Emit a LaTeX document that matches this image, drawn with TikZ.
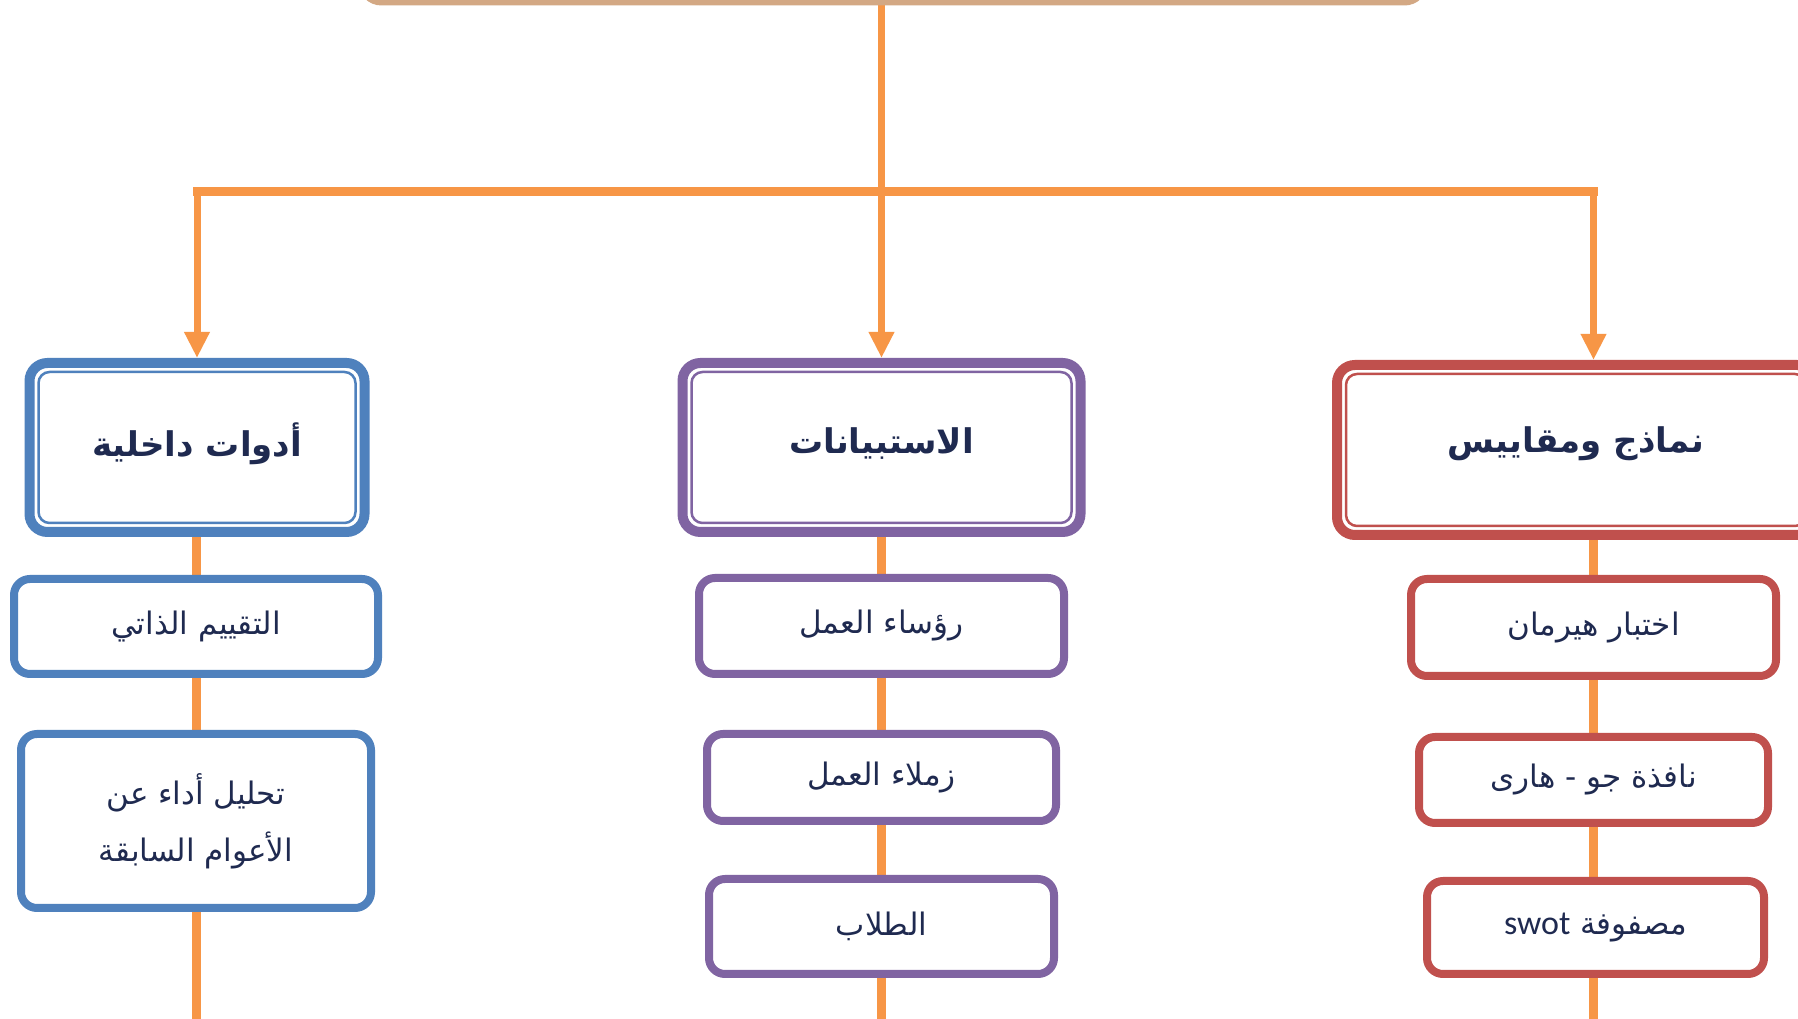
\documentclass[tikz,border=0pt]{standalone}
\usepackage{fontspec}
\newfontfamily\arabicfont[Script=Arabic]{DejaVu Sans}
\newfontfamily\latinsans{Carlito}
\TeXXeTstate=1
\usetikzlibrary{arrows.meta,calc}
\pgfdeclarelayer{background}
\pgfsetlayers{background,main}
\definecolor{cblue}{HTML}{4F81BD}
\definecolor{cpurple}{HTML}{8064A2}
\definecolor{cred}{HTML}{C0504D}
\definecolor{corange}{HTML}{F79646}
\definecolor{ctan}{HTML}{D3A884}
\definecolor{ctext}{HTML}{1F2A50}
\begin{document}
\begin{tikzpicture}[x=1pt,y=1pt,
  mainbox/.style={draw=#1, line width=10pt, rounded corners=18pt, fill=white, inner sep=0pt},
  titletext/.style={font=\arabicfont\bfseries\fontsize{34}{40}\selectfont, text=ctext},
  innerline/.style={draw=#1, line width=2.5pt, rounded corners=11pt},
  subbox/.style={draw=#1, line width=8pt, rounded corners=16pt, fill=white, inner sep=0pt,
    font=\arabicfont\fontsize{31}{57}\selectfont, text=ctext, align=center},
  conn/.style={draw=corange, line width=9pt},
  branch/.style={draw=corange, line width=7pt},
  arr/.style={-{Triangle[width=24pt,length=26pt]}}
]
\useasboundingbox (0,0) rectangle (1798,1019);

% top box
\node[draw=ctan, line width=7pt, rounded corners=20pt, fill=white, minimum width=1063pt, minimum height=100pt] (T) at (893,1067) {};

% main boxes
\node[mainbox=cblue, minimum width=335pt, minimum height=169pt] (L) at (197,571.5) {};
\node[titletext] (Lt) at (197,575) {\beginR أدوات داخلية\endR};
\node[mainbox=cpurple, minimum width=398pt, minimum height=169pt] (M) at (881.5,571.5) {};
\node[titletext] (Mt) at (881.5,575) {\beginR الاستبيانات\endR};
\node[mainbox=cred, minimum width=478pt, minimum height=170pt] (R) at (1576,569) {};
\node[titletext] (Rt) at (1576,575) {\beginR نماذج ومقاييس\endR};

\draw[innerline=cblue] ($(L.north west)+(14,-14)$) rectangle ($(L.south east)+(-14,14)$);
\draw[innerline=cpurple] ($(M.north west)+(14,-14)$) rectangle ($(M.south east)+(-14,14)$);
\draw[innerline=cred] ($(R.north west)+(14,-14)$) rectangle ($(R.south east)+(-14,14)$);

% sub boxes
\node[subbox=cblue, minimum width=364pt, minimum height=95pt] (L1) at (196,392.5) {\beginR التقييم الذاتي\endR};
\node[subbox=cblue, minimum width=350pt, minimum height=174pt] (L2) at (196,198) {\beginR تحليل أداء عن\endR\\\beginR الأعوام السابقة\endR};
\node[subbox=cpurple, minimum width=365pt, minimum height=96pt] (M1) at (881.5,393) {\beginR رؤساء العمل\endR};
\node[subbox=cpurple, minimum width=349pt, minimum height=87pt] (M2) at (881.5,241.5) {\beginR زملاء العمل\endR};
\node[subbox=cpurple, minimum width=345pt, minimum height=95pt] (M3) at (881.5,92.5) {\beginR الطلاب\endR};
\node[subbox=cred, minimum width=365pt, minimum height=97pt] (R1) at (1593.5,391.5) {\beginR اختبار هيرمان\endR};
\node[subbox=cred, minimum width=349pt, minimum height=86pt] (R2) at (1593.5,239) {\beginR نافذة جو - هارى\endR};
\node[subbox=cred, minimum width=337pt, minimum height=93pt] (R3) at (1595.5,91.5) {\beginR مصفوفة {\latinsans\fontsize{34}{40}\selectfont\beginL swot\endL}\endR};

\coordinate (bar) at (881.5,827.5);
\coordinate (Rtop) at ($(R.north)+(17.5,0)$);
\coordinate (Lend) at (196,-10);
\coordinate (Mend) at (881.5,-10);
\coordinate (Rend) at (1593.5,-10);

\begin{pgfonlayer}{background}
  \fill[white] (0,0) rectangle (1798,1019);
  \draw[branch, arr] (T.south -| M.north) -- (M.north);
  \draw[conn, line cap=rect] (L.north |- bar) -- (Rtop |- bar);
  \draw[branch, arr] (L.north |- bar) -- (L.north);
  \draw[branch, arr] (Rtop |- bar) -- (Rtop);
  \draw[conn] (L.south -| L1.north) -- (L1.north);
  \draw[conn] (L1.south) -- (L2.north);
  \draw[conn] (L2.south) -- (Lend);
  \draw[conn] (M.south) -- (M1.north);
  \draw[conn] (M1.south) -- (M2.north);
  \draw[conn] (M2.south) -- (M3.north);
  \draw[conn] (M3.south) -- (Mend);
  \draw[conn] (R.south -| R1.north) -- (R1.north);
  \draw[conn] (R1.south) -- (R2.north);
  \draw[conn] (R2.south) -- (R3.north -| R2.south);
  \draw[conn] (R3.south -| R2.south) -- (Rend);
\end{pgfonlayer}
\end{tikzpicture}
\end{document}
